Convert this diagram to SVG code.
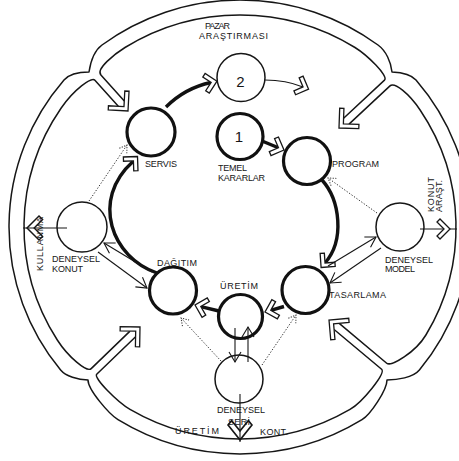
<svg xmlns="http://www.w3.org/2000/svg" width="459" height="461" viewBox="0 0 459 461">
  <defs>
    <style>
      .ring{fill:none;stroke:#161616;stroke-width:1.5;stroke-linejoin:round}
      .chev{fill:#fff;stroke:#161616;stroke-width:1.3;stroke-linejoin:miter}
      .chevO{fill:none;stroke:#161616;stroke-width:1.2;stroke-linejoin:miter}
      .thick{fill:none;stroke:#111;stroke-width:3.4}
      .nodeB{fill:none;stroke:#111;stroke-width:3.2}
      .nodeT{fill:none;stroke:#161616;stroke-width:1.5}
      .thin{fill:none;stroke:#161616;stroke-width:1.1}
      .dot{fill:none;stroke:#333;stroke-width:1;stroke-dasharray:1.3 1.7}
      text{font-family:"Liberation Sans","DejaVu Sans",Arial,sans-serif;font-size:9px;fill:#161616}
      .num{font-size:15px}
    </style>
    <path id="chevL" d="M0,0 L-14,-14 L-17,-11 L-6,0 L-17,11 L-14,14 Z"/>
    <path id="chevM" d="M0,0 L-10,-10 L-13,-7 L-6,0 L-13,7 L-10,10 Z"/>
    <marker id="open" markerUnits="userSpaceOnUse" markerWidth="14" markerHeight="16" viewBox="-12 -8 14 16" refX="0" refY="0" orient="auto">
      <path d="M-10,-6 L0,0 L-10,6" fill="none" stroke="#161616" stroke-width="1.1"/>
    </marker>
    <marker id="dotopen" markerUnits="userSpaceOnUse" markerWidth="12" markerHeight="12" viewBox="-10 -6 12 12" refX="0" refY="0" orient="auto">
      <path d="M-7,-4.5 L0,0 L-7,4.5" fill="none" stroke="#333" stroke-width="1" stroke-dasharray="1.2 1.4"/>
    </marker>
  </defs>
  <rect width="459" height="461" fill="#fff"/>

  <!-- outer band with four inward-pointing arrows -->
  <g id="frame">
    <path class="ring" d="M102,45 A231 227 0 0 1 378,45 C386.1,50.9 391,62 392,72 C402,72.5 410.8,74 416,80 A231 227 0 0 1 419.4,370 C413,377.7 397,380 387,380 C387,390 370.5,414.5 362,419.7 A231 227 0 0 1 118,419.7 C109.5,414.5 88,390 88,380 C78,380 65.7,376.2 60.6,370 A231 227 0 0 1 64,80 C69.2,74 79,72 89,72 C90.5,62.1 93.9,50.9 102,45 Z"/>
    <path class="ring" d="M124.3,100.9 L100.9,74.9 C95.5,69 114.8,53.8 125,47.5 A216 212 0 0 1 355,47.5 C366.9,54.9 388.9,76 384.5,80.1 L343.6,118.3"/>
    <path class="ring" d="M349,124.1 L390,85.9 C394.4,81.8 408.9,93.4 420.1,110 A216 212 0 0 1 425.9,335 C415.6,352.1 391.3,367.1 386.7,363.2 L339.2,323.4"/>
    <path class="ring" d="M334.1,329.5 L381.6,369.3 C386.2,373.2 362.1,402.4 350,409.4 A216 212 0 0 1 130,409.4 C117.9,402.4 93.1,377.8 96.7,374.3 L135.6,336.8"/>
    <path class="ring" d="M130,331.1 L91.2,368.6 C86.9,372.8 68.1,356.8 57.3,340 A216 212 0 0 1 61.2,108 C73.7,89.9 91.6,76.5 94.9,80.2 L118.3,106.2"/>
    <use href="#chevL" class="chev" transform="translate(128,111) rotate(48)"/>
    <use href="#chevL" class="chev" transform="translate(339,128) rotate(137)"/>
    <use href="#chevL" class="chev" transform="translate(329,320) rotate(220)"/>
    <use href="#chevL" class="chev" transform="translate(140,327) rotate(-44)"/>
    <text x="205" y="28.5" textLength="25" lengthAdjust="spacing">PAZAR</text>
    <text x="199" y="38.5" textLength="69" lengthAdjust="spacing">ARAŞTIRMASI</text>
    <text transform="translate(43,271) rotate(-90)" textLength="54" lengthAdjust="spacing">KULLANMA</text>
    <text transform="translate(433.5,212) rotate(-90)" textLength="35" lengthAdjust="spacing">KONUT</text>
    <text transform="translate(442,212) rotate(-90)" textLength="32" lengthAdjust="spacing">ARAŞT.</text>
    <text x="175" y="434" textLength="44" lengthAdjust="spacing">ÜRETİM</text>
    <text x="260" y="435" textLength="28" lengthAdjust="spacing">KONT.</text>
  </g>

  <!-- connectors -->
  <g id="connectors">
    <!-- main cycle -->
    <path class="thick" d="M166,107 Q185,88 211,82.5"/>
    <path class="thick" d="M262,141 L278.4,147.8"/>
    <path class="thick" d="M322,180 C340,200 345,240 325,263"/>
    <path class="thick" d="M284,306.5 L270.8,310.4"/>
    <path class="thick" d="M219,311 L200.8,306.6"/>
    <path class="thick" d="M157,273 C112,258 90,200 133,161.5"/>
    <path class="thin" d="M265,80 Q286,80 303,87"/>
    <use href="#chevM" class="chev" transform="translate(217,81.2) rotate(-12)"/>
    <use href="#chevM" class="chev" transform="translate(284,150) rotate(22)"/>
    <use href="#chevM" class="chev" transform="translate(308.6,89.2) rotate(22)"/>
    <use href="#chevM" class="chev" transform="translate(321.1,267.5) rotate(131)"/>
    <use href="#chevM" class="chev" transform="translate(265,312) rotate(164)"/>
    <use href="#chevM" class="chev" transform="translate(195,305) rotate(195)"/>
    <use href="#chevM" class="chev" transform="translate(137.5,156.5) rotate(-47)"/>

    <!-- two-way links -->
    <line class="thin" x1="152" y1="272" x2="104" y2="243" marker-end="url(#open)"/>
    <line class="thin" x1="98" y1="252" x2="147" y2="288" marker-end="url(#open)"/>
    <line class="thin" x1="328" y1="266" x2="376" y2="237" marker-end="url(#open)"/>
    <line class="thin" x1="381" y1="248" x2="330" y2="283" marker-end="url(#open)"/>
    <line class="thin" x1="235" y1="328" x2="235" y2="362" marker-end="url(#open)"/>
    <line class="thin" x1="248" y1="362" x2="248" y2="327" marker-end="url(#open)"/>

    <!-- outward arrows -->
    <line class="thin" x1="67" y1="228" x2="23" y2="228"/>
    <use href="#chevM" class="chevO" transform="translate(27,228) rotate(180) scale(1.2)"/>
    <line class="thin" x1="420" y1="229" x2="457" y2="229"/>
    <use href="#chevM" class="chev" transform="translate(450,229)"/>
    <line class="thin" x1="240" y1="394" x2="240" y2="442"/>
    <use href="#chevM" class="chevO" transform="translate(240,440) rotate(90) scale(1.5,1.2)" vector-effect="non-scaling-stroke"/>

    <!-- dotted feedback -->
    <line class="dot" x1="89" y1="201" x2="127" y2="145" marker-end="url(#dotopen)"/>
    <line class="dot" x1="377" y1="213" x2="328" y2="178" marker-end="url(#dotopen)"/>
    <line class="dot" x1="221" y1="361" x2="181" y2="318" marker-end="url(#dotopen)"/>
    <line class="dot" x1="262" y1="365" x2="296" y2="315" marker-end="url(#dotopen)"/>
  </g>

  <!-- nodes -->
  <g id="n-servis">
    <circle class="nodeB" cx="151" cy="132" r="24"/>
    <text x="145" y="166.5" textLength="32" lengthAdjust="spacing">SERVIS</text>
  </g>
  <g id="n-2">
    <circle class="nodeT" cx="241" cy="77.5" r="24"/>
    <text class="num" x="240.5" y="86.5" text-anchor="middle">2</text>
  </g>
  <g id="n-1">
    <circle class="nodeB" cx="240" cy="136.5" r="23"/>
    <text class="num" x="239" y="141.5" text-anchor="middle">1</text>
    <text x="218" y="171" textLength="29" lengthAdjust="spacing">TEMEL</text>
    <text x="218" y="181" textLength="47" lengthAdjust="spacing">KARARLAR</text>
  </g>
  <g id="n-program">
    <circle class="nodeB" cx="307" cy="161" r="23.5"/>
    <text x="332" y="167" textLength="47" lengthAdjust="spacing">PROGRAM</text>
  </g>
  <g id="n-konut">
    <circle class="nodeT" cx="82" cy="227" r="25"/>
    <text x="52" y="262" textLength="48" lengthAdjust="spacing">DENEYSEL</text>
    <text x="52" y="272" textLength="31" lengthAdjust="spacing">KONUT</text>
  </g>
  <g id="n-model">
    <circle class="nodeT" cx="400" cy="227" r="24"/>
    <text x="385" y="263" textLength="48" lengthAdjust="spacing">DENEYSEL</text>
    <text x="385" y="272" textLength="30" lengthAdjust="spacing">MODEL</text>
  </g>
  <g id="n-dagitim">
    <circle class="nodeB" cx="173" cy="290.5" r="23.5"/>
    <text x="157" y="266" textLength="40" lengthAdjust="spacing">DAĞITIM</text>
  </g>
  <g id="n-uretim">
    <circle class="nodeB" cx="240.5" cy="316.5" r="22"/>
    <text x="220" y="289" textLength="38" lengthAdjust="spacing">ÜRETİM</text>
  </g>
  <g id="n-tasarlama">
    <circle class="nodeB" cx="305.5" cy="290" r="23.5"/>
    <text x="329" y="298" textLength="57" lengthAdjust="spacing">TASARLAMA</text>
  </g>
  <g id="n-seri">
    <circle class="nodeT" cx="239" cy="379" r="24"/>
    <text x="217" y="413" textLength="48" lengthAdjust="spacing">DENEYSEL</text>
    <text x="228" y="425" textLength="22" lengthAdjust="spacing">SERİ</text>
  </g>
</svg>
